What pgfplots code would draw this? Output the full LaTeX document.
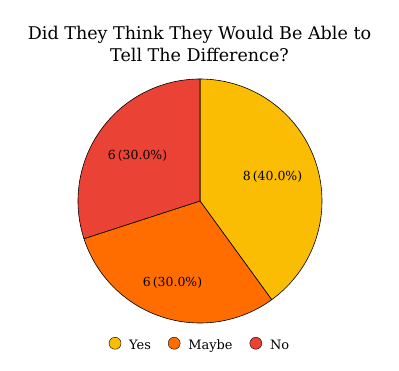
\documentclass[border=0pt]{standalone}
\usepackage{pgfplots}
\usepackage{pgfplotstable}
\pgfplotsset{compat=1.18}
\usepackage{fontspec}
\setmainfont{DejaVu Serif}
\definecolor{cYes}{HTML}{FBBC04}
\definecolor{cMaybe}{HTML}{FF6D01}
\definecolor{cNo}{HTML}{EA4335}
\pgfplotstableread{
name value
Yes 8
Maybe 6
No 6
}\piedata
\pgfplotstablegetelem{0}{value}\of\piedata \let\vA\pgfplotsretval
\pgfplotstablegetelem{1}{value}\of\piedata \let\vB\pgfplotsretval
\pgfplotstablegetelem{2}{value}\of\piedata \let\vC\pgfplotsretval
\pgfmathsetmacro\tot{\vA+\vB+\vC}
\pgfmathsetmacro\sA{90}
\pgfmathsetmacro\eA{\sA-360*\vA/\tot}
\pgfmathsetmacro\eB{\eA-360*\vB/\tot}
\pgfmathsetmacro\eC{\eB-360*\vC/\tot}
\pgfmathsetmacro\pA{100*\vA/\tot}
\pgfmathsetmacro\pB{100*\vB/\tot}
\pgfmathsetmacro\pC{100*\vC/\tot}
\newcommand\pct[1]{\pgfmathprintnumber[fixed,fixed zerofill,precision=1,assume math mode=true]{#1}}
\begin{document}
\begin{tikzpicture}
\useasboundingbox (0,0) rectangle (399bp,371bp);
\begin{axis}[
  at={(0,0)}, anchor=origin,
  scale only axis, width=399bp, height=371bp,
  xmin=0, xmax=399, ymin=0, ymax=371,
  hide axis, clip=false,
  legend columns=3,
  legend image code/.code={\fill[#1] (0bp,2bp) circle (6bp);},
  legend style={draw=none, fill=none, at={(axis cs:199,27)}, anchor=center,
    font=\fontsize{13}{15}\selectfont, inner sep=0pt,
    nodes={inner sep=0pt},
    /tikz/every odd column/.append style={column sep=8bp},
    /tikz/every even column/.append style={column sep=17bp}},
  legend cell align=left,
]
\addplot[fill=cYes, draw=black, line width=0.6bp, domain=\eA:\sA, samples=80, variable=\t, forget plot]
  ({200+122*cos(t)}, {170+122*sin(t)}) -- (axis cs:200,170) -- cycle;
\addplot[fill=cMaybe, draw=black, line width=0.6bp, domain=\eB:\eA, samples=80, variable=\t, forget plot]
  ({200+122*cos(t)}, {170+122*sin(t)}) -- (axis cs:200,170) -- cycle;
\addplot[fill=cNo, draw=black, line width=0.6bp, domain=\eC:\eB, samples=80, variable=\t, forget plot]
  ({200+122*cos(t)}, {170+122*sin(t)}) -- (axis cs:200,170) -- cycle;
\node[font=\fontsize{12.5}{13}\selectfont] at (axis cs:272.5,194) {\vA\,(\pct{\pA}\%)};
\node[font=\fontsize{12.5}{13}\selectfont] at (axis cs:172.5,88) {\vB\,(\pct{\pB}\%)};
\node[font=\fontsize{12.5}{13}\selectfont] at (axis cs:137.5,215) {\vC\,(\pct{\pC}\%)};
\node[font=\fontsize{17.6}{23}\selectfont, align=center] at (axis cs:199.5,327) {Did They Think They Would Be Able to\\Tell The Difference?};
\addlegendimage{fill=cYes}
\addlegendimage{fill=cMaybe}
\addlegendimage{fill=cNo}
\legend{Yes, Maybe, No}
\end{axis}
\end{tikzpicture}
\end{document}
